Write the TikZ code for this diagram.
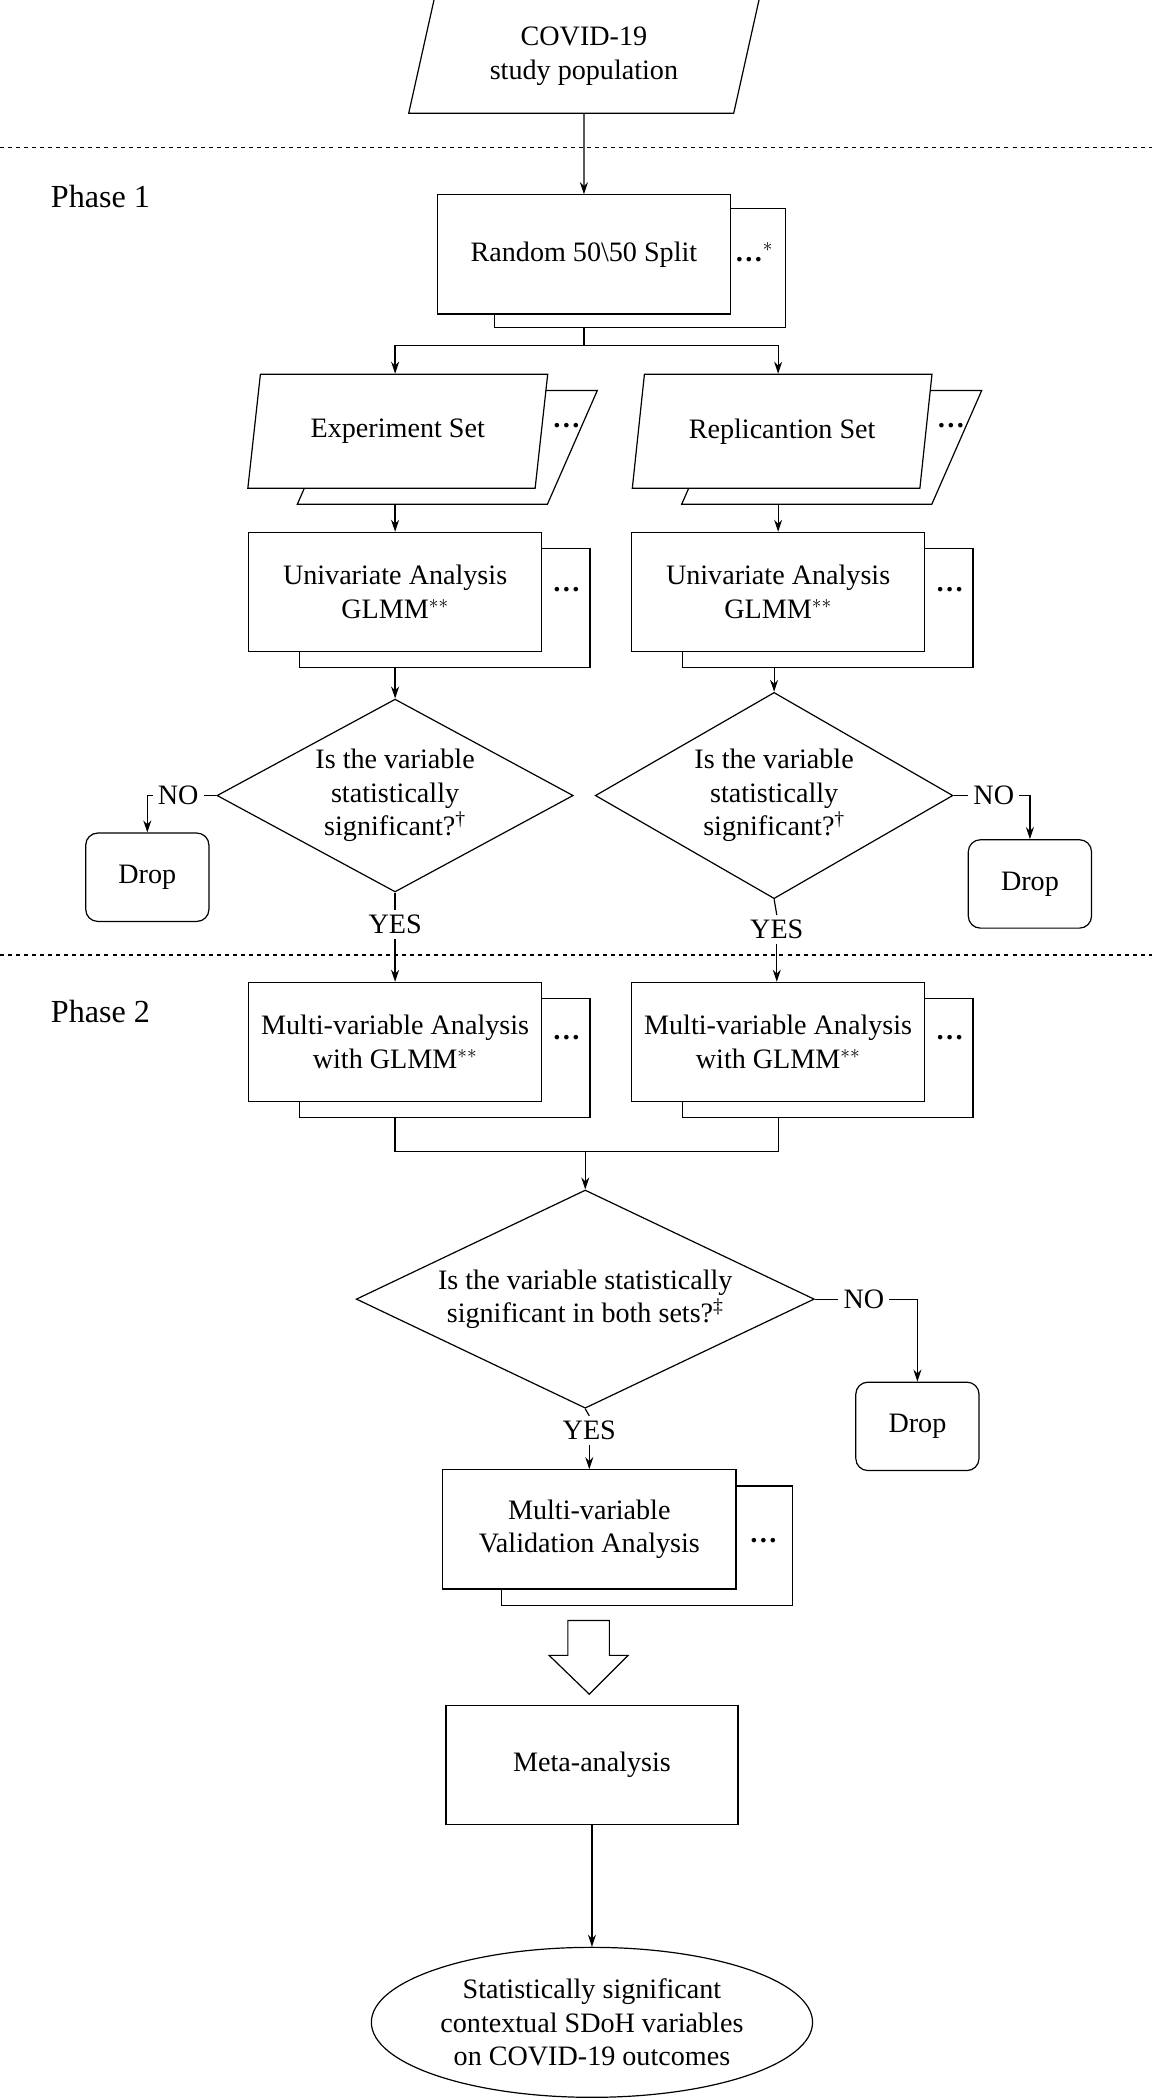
\documentclass[tikz,border=0pt]{standalone}
\usepackage{fontspec}
\setmainfont{Liberation Serif}
\usetikzlibrary{shapes.geometric,arrows.meta}
\begin{document}
\begin{tikzpicture}[x=1pt,y=-1pt,>={Stealth[length=9pt,width=6pt]},
    font=\fontsize{21}{25}\selectfont, line width=0.9pt,
    box/.style ={rectangle, draw, fill=white, minimum width=219pt, minimum height=89pt, align=center},
    shade/.style ={rectangle, draw, fill=white, minimum width=217pt, minimum height=89pt},
    data/.style ={trapezium, trapezium left angle=76, trapezium right angle=104, trapezium stretches=true,
        draw, fill=white, minimum width=224pt, minimum height=85pt, align=center},
    decision/.style ={diamond, draw, fill=white, aspect=1.85, inner sep=0pt, align=center},
    drop/.style ={rectangle, rounded corners=9pt, draw, fill=white, minimum width=92pt, minimum height=66pt},
    dots/.style ={inner sep=0pt}]
   \useasboundingbox (0,0) rectangle (860,1568);
   % phases
   \draw[dashed] (0,110) -- (860,110);
   \draw[dashed] (0,713) -- (860,713);
   \node (p1) at (75,147) {\fontsize{24}{28}\selectfont Phase 1};
   \node (p2) at (75,755) {\fontsize{24}{28}\selectfont Phase 2};

   \node[data, minimum width=262pt] (pop) at (436,42) {COVID-19\\study population};

   \node[shade] (splitS) at (478,200) {};
   \node[box] (split) at (436,190) {Random 50\textbackslash 50 Split};
   \node[dots] at (563,188) {\textbf{\dots}$^{*}$};

   \node[data] (expS) at (334,334) {};
   \node[data] (exp) at (297,322) {Experiment Set};
   \node[dots] at (423,318) {\textbf{\dots}};
   \node[data] (repS) at (621,334) {};
   \node[data] (rep) at (584,322) {Replicantion Set};
   \node[dots] at (710,318) {\textbf{\dots}};

   \node[shade] (uniLS) at (332,454) {};
   \node[box] (uniL) at (295,442) {Univariate Analysis\\GLMM$^{**}$};
   \node[dots] at (423,440) {\textbf{\dots}};
   \node[shade] (uniRS) at (618,454) {};
   \node[box] (uniR) at (581,442) {Univariate Analysis\\GLMM$^{**}$};
   \node[dots] at (709,440) {\textbf{\dots}};

   \node[decision, minimum width=266pt, minimum height=144pt] (decL) at (295,594) {Is the variable\\statistically\\significant?\textsuperscript{†}};
   \node[decision, minimum width=267pt, minimum height=154pt] (decR) at (578,594) {Is the variable\\statistically\\significant?\textsuperscript{†}};
   \node[drop] (dropL) at (110,655) {Drop};
   \node[drop] (dropR) at (769,660) {Drop};
   \node (noL) at (133,594) {NO};
   \node (noR) at (742,594) {NO};
   \node (yesL) at (295,690) {YES};
   \node (yesR) at (580,694) {YES};

   \node[shade] (mulLS) at (332,790) {};
   \node[box] (mulL) at (295,778) {Multi-variable Analysis\\with GLMM$^{**}$};
   \node[dots] at (423,775) {\textbf{\dots}};
   \node[shade] (mulRS) at (618,790) {};
   \node[box] (mulR) at (581,778) {Multi-variable Analysis\\with GLMM$^{**}$};
   \node[dots] at (709,775) {\textbf{\dots}};

   \node[decision, minimum width=342pt, minimum height=144pt] (both) at (437,970) {Is the variable statistically\\significant in both sets?\textsuperscript{‡}};
   \node (noB) at (645,970) {NO};
   \node[drop] (dropB) at (685,1065) {Drop};
   \node (yesB) at (440,1068) {YES};

   \node[shade] (valS) at (483,1154) {};
   \node[box] (val) at (440,1142) {Multi-variable\\Validation Analysis};
   \node[dots] at (570,1150) {\textbf{\dots}};

   \draw (424,1210) -- (455,1210) -- (455,1236) -- (469,1236) -- (440,1265) -- (410,1236) -- (424,1236) -- cycle;

   \node[box, minimum width=218pt] (meta) at (442,1318) {Meta-analysis};
   \node[ellipse, draw, minimum width=258pt, minimum height=112pt, align=center] (res) at (442,1510)
       {Statistically significant\\contextual SDoH variables\\on COVID-19 outcomes};

   % connectors
   \draw[->] (pop) -- (split);
   \draw (splitS.south -| split) -- (436,258) coordinate (sp);
   \draw[->] (sp) -| (exp.north -| uniL);
   \draw[->] (sp) -| (rep.north -| uniR);
   \draw[->] (expS.south -| uniL) -- (uniL);
   \draw[->] (repS.south -| uniR) -- (uniR);
   \draw[->] (uniLS.south -| uniL) -- (decL);
   \draw[->] (uniRS.south -| decR) -- (decR);
   \draw (decL.west) -- (noL.east);
   \draw[->] (noL.west) -| (dropL);
   \draw (decR.east) -- (noR.west);
   \draw[->] (noR.east) -| (dropR);
   \draw (decL.south) -- (yesL.north);
   \draw (decR.south) -- (yesR.north);
   \draw[->] (yesL.south) -- (mulL);
   \draw[->] (yesR.south) -- (mulR.north -| yesR);
   \draw (mulLS.south -| mulL) -- (295,860) coordinate (ml) -- (581,860) coordinate (mr) -- (mulRS.south -| mulR);
   \draw[->] (437,860) -- (both);
   \draw (both.east) -- (noB.west);
   \draw[->] (noB.east) -| (dropB);
   \draw (both.south) -- (yesB.north);
   \draw[->] (yesB.south) -- (val);
   \draw[->] (meta) -- (res);
 \end{tikzpicture}
\end{document}
